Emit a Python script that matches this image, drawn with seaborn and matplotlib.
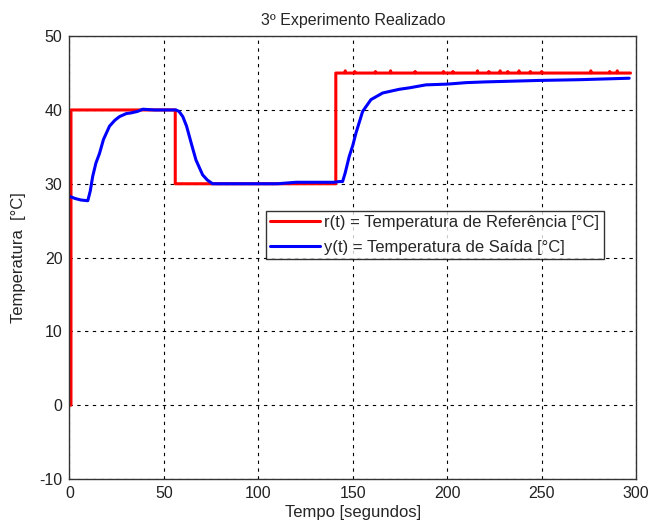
import numpy as np
import pandas as pd
import matplotlib
matplotlib.use("Agg")
import matplotlib.pyplot as plt
import seaborn as sns

# reference temperature r(t): step profile
ref_time = [0, 0.8, 0.8, 56, 56, 141, 141, 297]
ref_temp = [0, 0, 40, 40, 30, 30, 45, 45]
# small sensor spikes on the 45 degree level (time, peak value)
spike_time = [146, 151, 162, 170, 183, 198, 203, 216, 222, 228, 232, 238, 244, 250, 276, 286, 290]
spike_temp = [45.3, 45.2, 45.2, 45.3, 45.2, 45.2, 45.2, 45.3, 45.2, 45.3, 45.2, 45.3, 45.2, 45.2, 45.3, 45.2, 45.3]

# measured output temperature y(t)
out_time = [0, 3, 6, 9.7, 11, 12.3, 14, 15.9, 18, 21.2, 24, 26.5, 30, 32.6, 36, 38.8, 45, 52,
            56.4, 58, 60, 62, 63.5, 65, 67, 70.5, 73, 75.8, 80, 100, 110, 120, 130, 140, 143,
            144.6, 146, 148.1, 150, 151.7, 155.2, 159.6, 165.8, 174.6, 180, 188.7, 200, 209.9,
            220, 248.7, 270, 296.3]
out_temp = [28.3, 28.0, 27.8, 27.7, 29.0, 31.0, 32.8, 34.1, 36.0, 37.8, 38.6, 39.1, 39.5, 39.6,
            39.8, 40.1, 40.0, 40.0, 40.0, 39.8, 39.1, 37.8, 36.4, 35.0, 33.2, 31.2, 30.5, 30.0,
            30.0, 30.0, 30.0, 30.2, 30.2, 30.2, 30.3, 30.3, 31.5, 33.7, 35.2, 36.9, 39.8, 41.4,
            42.3, 42.8, 43.0, 43.4, 43.5, 43.7, 43.8, 44.0, 44.1, 44.3]

# insert the spikes into the 45 degree segment of r(t)
t_list, v_list = ref_time[:-1], ref_temp[:-1]
for st, sv in zip(spike_time, spike_temp):
    t_list = t_list + [st - 0.3, st, st + 0.3]
    v_list = v_list + [45, sv, 45]
t_list.append(ref_time[-1])
v_list.append(ref_temp[-1])

ref_df = pd.DataFrame({"t": t_list, "v": v_list})
out_df = pd.DataFrame({"t": out_time, "v": out_temp})

sns.set_style("white")
plt.rcParams["font.family"] = ["Liberation Sans", "DejaVu Sans"]
plt.rcParams["axes.unicode_minus"] = False

fig = plt.figure(figsize=(6.51, 5.24), dpi=100)
ax = fig.add_axes([0.1067, 0.086, 0.8705, 0.845])

sns.lineplot(data=ref_df, x="t", y="v", ax=ax, color="red", lw=2.2,
             estimator=None, sort=False, label="r(t) = Temperatura de Referência [°C]")
sns.lineplot(data=out_df, x="t", y="v", ax=ax, color="blue", lw=2.2,
             estimator=None, sort=False, label="y(t) = Temperatura de Saída [°C]")

ax.set_xlim(0, 300)
ax.set_ylim(-10, 50)
ax.set_xticks(np.arange(0, 301, 50))
ax.set_yticks(np.arange(-10, 51, 10))
ax.grid(True, color="black", linestyle=(0, (3, 4)), linewidth=0.8)
for s in ax.spines.values():
    s.set_color("#333333")
    s.set_linewidth(1.0)
ax.tick_params(labelsize=11.5, direction="in", length=4, pad=5, colors="#222222")

ax.set_title("3º Experimento Realizado", fontsize=11.5, pad=8)
ax.set_xlabel("Tempo [segundos]", fontsize=12, labelpad=3)
ax.set_ylabel("Temperatura  [°C]", fontsize=12, labelpad=10)

leg = ax.legend(loc="upper left", bbox_to_anchor=(0.347, 0.605), fontsize=12,
                frameon=True, fancybox=False, edgecolor="black", handlelength=3.0,
                handletextpad=0.25, borderpad=0.25, labelspacing=0.6, borderaxespad=0)
leg.get_frame().set_linewidth(1.0)

fig.savefig("out.png", dpi=100)
